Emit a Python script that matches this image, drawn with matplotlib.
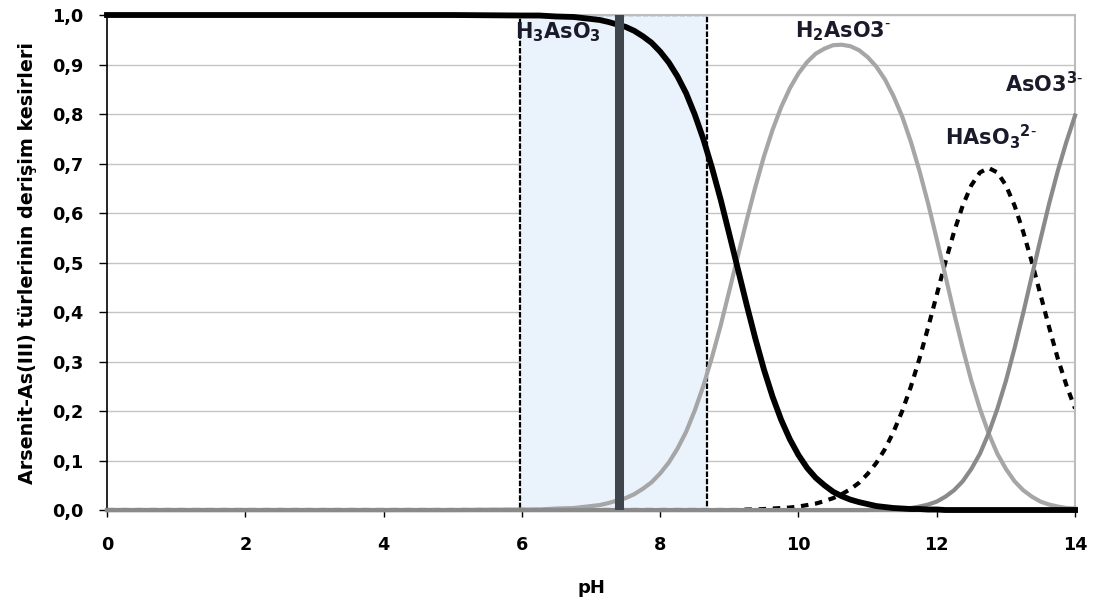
import numpy as np
import matplotlib
matplotlib.use('Agg')
import matplotlib.pyplot as plt
from matplotlib.patches import Rectangle

plt.rcParams['font.family'] = ['DejaVu Sans']
plt.rcParams['mathtext.fontset'] = 'dejavusans'
plt.rcParams['mathtext.default'] = 'bf'

# pH values and species fractions
ph = [0, 2, 4, 5, 6.0, 6.25, 6.5, 6.75,
      7.0, 7.125, 7.25, 7.375, 7.5, 7.625, 7.75, 7.875,
      8.0, 8.125, 8.25, 8.375, 8.5, 8.625, 8.75, 8.875,
      9.0, 9.125, 9.25, 9.375, 9.5, 9.625, 9.75, 9.875,
      10.0, 10.125, 10.25, 10.375, 10.5, 10.625, 10.75, 10.875,
      11.0, 11.125, 11.25, 11.375, 11.5, 11.625, 11.75, 11.875,
      12.0, 12.125, 12.25, 12.375, 12.5, 12.625, 12.75, 12.875,
      13.0, 13.125, 13.25, 13.375, 13.5, 13.625, 13.75, 13.875, 14.0]
h3aso3 = [1.0, 1.0, 1.0, 1.0, 0.999, 0.999, 0.997, 0.996,
          0.992, 0.990, 0.986, 0.981, 0.976, 0.968, 0.957, 0.944,
          0.926, 0.904, 0.876, 0.842, 0.799, 0.749, 0.691, 0.627,
          0.557, 0.486, 0.415, 0.347, 0.284, 0.229, 0.182, 0.143,
          0.111, 0.085, 0.065, 0.050, 0.037, 0.028, 0.021, 0.016,
          0.012, 0.008, 0.006, 0.004, 0.003, 0.002, 0.002, 0.001,
          0.001, 0.0, 0.0, 0.0, 0.0, 0.0, 0.0, 0.0,
          0.0, 0.0, 0.0, 0.0, 0.0, 0.0, 0.0, 0.0, 0.0]
h2aso3 = [0.0, 0.0, 0.0, 0.0, 0.001, 0.001, 0.003, 0.004,
          0.008, 0.010, 0.014, 0.019, 0.024, 0.032, 0.043, 0.056,
          0.074, 0.096, 0.124, 0.158, 0.201, 0.251, 0.309, 0.373,
          0.443, 0.514, 0.585, 0.652, 0.714, 0.768, 0.814, 0.852,
          0.882, 0.905, 0.922, 0.932, 0.939, 0.940, 0.937, 0.929,
          0.915, 0.896, 0.870, 0.836, 0.795, 0.744, 0.685, 0.619,
          0.547, 0.473, 0.398, 0.327, 0.261, 0.204, 0.155, 0.114,
          0.083, 0.058, 0.040, 0.027, 0.017, 0.011, 0.007, 0.004, 0.003]
haso3 = [0.0, 0.0, 0.0, 0.0, 0.0, 0.0, 0.0, 0.0,
         0.0, 0.0, 0.0, 0.0, 0.0, 0.0, 0.0, 0.0,
         0.0, 0.0, 0.0, 0.0, 0.0, 0.0, 0.0, 0.0,
         0.0, 0.0, 0.001, 0.001, 0.002, 0.003, 0.004, 0.005,
         0.007, 0.010, 0.013, 0.018, 0.024, 0.032, 0.042, 0.055,
         0.073, 0.095, 0.123, 0.158, 0.200, 0.249, 0.306, 0.369,
         0.435, 0.501, 0.562, 0.615, 0.656, 0.682, 0.691, 0.682,
         0.656, 0.615, 0.562, 0.501, 0.435, 0.369, 0.306, 0.252, 0.205]
aso3 = [0.0, 0.0, 0.0, 0.0, 0.0, 0.0, 0.0, 0.0,
        0.0, 0.0, 0.0, 0.0, 0.0, 0.0, 0.0, 0.0,
        0.0, 0.0, 0.0, 0.0, 0.0, 0.0, 0.0, 0.0,
        0.0, 0.0, 0.0, 0.0, 0.0, 0.0, 0.0, 0.0,
        0.0, 0.0, 0.0, 0.0, 0.0, 0.0, 0.0, 0.0,
        0.0, 0.001, 0.001, 0.001, 0.003, 0.004, 0.007, 0.011,
        0.017, 0.027, 0.040, 0.058, 0.083, 0.114, 0.155, 0.204,
        0.261, 0.327, 0.398, 0.473, 0.547, 0.619, 0.685, 0.744, 0.797]

box_ph = (5.97, 8.68)
ph_line = 7.4

fig = plt.figure(figsize=(10.94, 6.03), dpi=100)
ax = fig.add_axes([0.0978, 0.1542, 0.8849, 0.8209])

# shaded pH window
ax.add_patch(Rectangle((box_ph[0], 0), box_ph[1] - box_ph[0], 1.0, facecolor='#eaf2fc',
                       edgecolor='black', linewidth=1.6, linestyle=(0, (2.5, 0.8)), zorder=1))

ax.plot(ph, haso3, color='black', lw=3.0, linestyle=(0, (1.8, 1.6)), zorder=2)
ax.plot(ph, h2aso3, color='#a6a6a6', lw=3.0, zorder=3, clip_on=False)
ax.plot(ph, aso3, color='#8a8a8a', lw=3.0, zorder=3, clip_on=False)
ax.plot(ph, h3aso3, color='black', lw=4.2, zorder=5, clip_on=False)
ax.axvline(ph_line, color='#3f454c', lw=6.5, zorder=6)

lab_kw = dict(fontsize=15, color='#1a1a2a', va='center', ha='left', zorder=7)
ax.text(5.9, 0.965, r'H$_3$AsO$_3$', **lab_kw)
ax.text(9.95, 0.968, r'H$_2$AsO3$^{\text{-}}$', **lab_kw)
ax.text(12.99, 0.862, r'AsO3$^{3\text{-}}$', **lab_kw)
ax.text(12.12, 0.755, r'HAsO$_3$$^{2\text{-}}$', **lab_kw)
for t in ax.texts:
    t.set_fontweight('bold')

ax.set_xlim(0, 14)
ax.set_ylim(0, 1.0)
ax.set_xticks(range(0, 15, 2))
ax.set_yticks(np.arange(0, 1.01, 0.1))
ax.set_yticklabels([f'{v:.1f}'.replace('.', ',') for v in np.arange(0, 1.01, 0.1)])
ax.yaxis.grid(True, color='#c4c4c4', lw=1.0)
ax.set_axisbelow(True)
ax.tick_params(axis='both', labelsize=12.7, direction='out', length=6, width=1)
for lab in ax.get_xticklabels() + ax.get_yticklabels():
    lab.set_fontweight('bold')
ax.tick_params(axis='x', pad=14, length=5)
ax.tick_params(axis='y', pad=11)

ax.spines['left'].set_color('black')
ax.spines['left'].set_linewidth(1.2)
ax.spines['bottom'].set_color('#9a9a9a')
ax.spines['bottom'].set_linewidth(2.5)
ax.spines['top'].set_color('#bdbdbd')
ax.spines['top'].set_linewidth(1.5)
ax.spines['right'].set_color('#bdbdbd')
ax.spines['right'].set_linewidth(1.5)

ax.set_xlabel('pH', fontsize=13, fontweight='bold', labelpad=18)
ax.set_ylabel('Arsenit-As(III) türlerinin derişim kesirleri', fontsize=13.8,
              fontweight='bold', labelpad=11)

fig.savefig('out.png', dpi=100)
